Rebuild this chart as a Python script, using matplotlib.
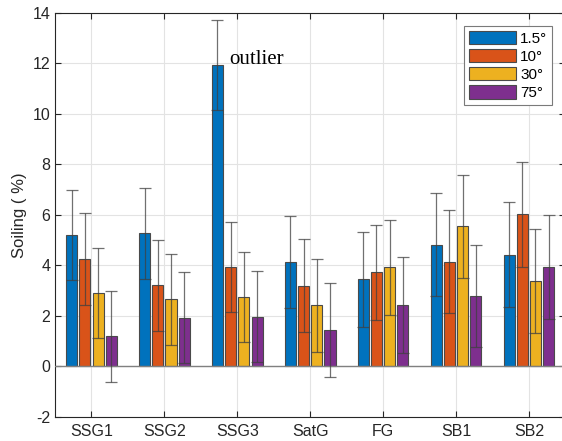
import numpy as np
import matplotlib
matplotlib.use("Agg")
import matplotlib.pyplot as plt

plt.rcParams['font.family'] = ['Liberation Sans', 'DejaVu Sans']
plt.rcParams['axes.unicode_minus'] = False

sites = ["SSG1", "SSG2", "SSG3", "SatG", "FG", "SB1", "SB2"]
angles = ["1.5°", "10°", "30°", "75°"]
colors = ["#0072BD", "#D95319", "#EDB120", "#7E2F8E"]

soil_15 = [5.20, 5.27, 11.95, 4.13, 3.45, 4.81, 4.42]
soil_10 = [4.25, 3.21, 3.93, 3.19, 3.72, 4.15, 6.03]
soil_30 = [2.90, 2.66, 2.74, 2.41, 3.92, 5.54, 3.37]
soil_75 = [1.18, 1.93, 1.97, 1.44, 2.43, 2.78, 3.93]

err_15 = [1.80, 1.80, 1.78, 1.84, 1.88, 2.04, 2.08]
err_10 = [1.81, 1.80, 1.80, 1.84, 1.88, 2.04, 2.08]
err_30 = [1.80, 1.80, 1.79, 1.85, 1.89, 2.03, 2.06]
err_75 = [1.80, 1.80, 1.80, 1.85, 1.90, 2.03, 2.05]

values = [soil_15, soil_10, soil_30, soil_75]
errors = [err_15, err_10, err_30, err_75]

fig = plt.figure(figsize=(5.62, 4.41), dpi=100)
ax = fig.add_axes([0.0979, 0.0551, 0.908, 0.9154])

x = np.arange(1, len(sites) + 1)
pitch = 0.181
width = 0.152
for i in range(4):
    pos = x + (i - 1.5) * pitch
    ax.bar(pos, values[i], width, color=colors[i], edgecolor="#4a4a4a",
           linewidth=0.8, label=angles[i], zorder=3)
    ax.errorbar(pos, values[i], yerr=errors[i], fmt="none", ecolor="#404040",
                elinewidth=0.9, capsize=4, capthick=0.9, alpha=0.75, zorder=4)

ax.axhline(0, color="#808080", linewidth=1.0, zorder=3.5)

ax.set_xlim(0.5, 7.5)
ax.set_ylim(-2, 14)
ax.set_xticks(x)
ax.set_xticklabels(sites)
ax.set_yticks(np.arange(-2, 15, 2))
ax.set_ylabel("Soiling ( %)", fontsize=12, color="#262626")

ax.grid(True, color="#e3e3e3", linewidth=0.8, zorder=0)
ax.set_axisbelow(True)
ax.tick_params(direction="in", length=4, labelsize=11.5, colors="#262626",
               top=True, right=True, width=0.8)
ax.tick_params(axis="x", pad=5)
for s in ax.spines.values():
    s.set_color("#262626")
    s.set_linewidth(0.8)

ax.text(2.89, 12.14, "outlier", family="Liberation Serif", fontsize=15,
        va="center", ha="left", color="black")

leg = ax.legend(loc="upper right", bbox_to_anchor=(0.9735, 0.968),
                fontsize=11, handlelength=3.1, handleheight=1.0,
                handletextpad=0.25, labelspacing=0.2, borderpad=0.3,
                borderaxespad=0, fancybox=False, framealpha=1,
                edgecolor="#7a7a7a")
leg.get_frame().set_linewidth(0.8)

fig.savefig("out.png", dpi=100)
